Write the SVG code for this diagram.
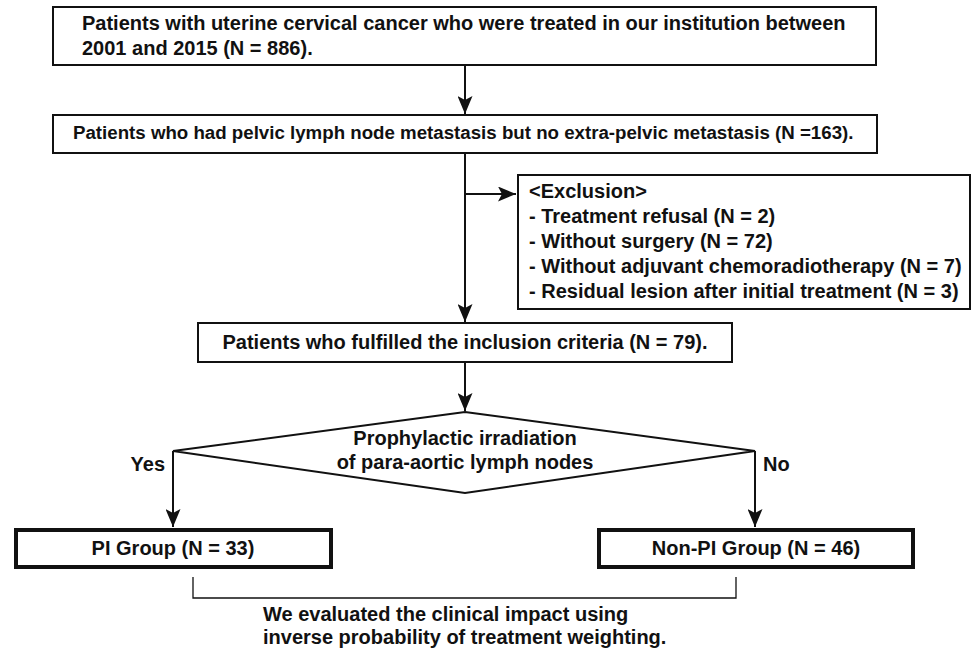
<svg xmlns="http://www.w3.org/2000/svg" width="973" height="650" viewBox="0 0 973 650">
<style>
text{font-family:"Liberation Sans",Arial,sans-serif;font-weight:bold;font-size:20px;fill:#111}
.box{fill:#fff;stroke:#111;stroke-width:2}
.thick{fill:#fff;stroke:#111;stroke-width:4}
.ln{fill:none;stroke:#111;stroke-width:2}
.thin{fill:none;stroke:#111;stroke-width:1.3}
.c{text-anchor:middle}
</style>
<defs>
<marker id="ah" viewBox="0 0 18 15" refX="18" refY="7.5" markerWidth="18" markerHeight="15" markerUnits="userSpaceOnUse" orient="auto">
<path d="M0,0 L18,7.5 L0,15 L4,7.5 Z" fill="#111"/>
</marker>
</defs>
<rect width="973" height="650" fill="#fff"/>
<g id="connectors">
<line class="ln" x1="465" y1="65" x2="465" y2="114" marker-end="url(#ah)"/>
<line class="ln" x1="465" y1="154" x2="465" y2="322" marker-end="url(#ah)"/>
<line class="ln" x1="465" y1="194" x2="516" y2="194" marker-end="url(#ah)"/>
<line class="ln" x1="465" y1="362" x2="465" y2="411" marker-end="url(#ah)"/>
<polyline class="ln" points="173,451 173,527" marker-end="url(#ah)"/>
<polyline class="ln" points="755,451 755,527" marker-end="url(#ah)"/>
<polyline class="thin" points="193,577 193,598 736,598 736,577"/>
<text x="165" y="471" text-anchor="end">Yes</text>
<text x="763" y="471">No</text>
</g>
<g id="n1">
<rect class="box" x="53" y="7" width="823" height="58"/>
<text x="82" y="30">Patients with uterine cervical cancer who were treated in our institution between</text>
<text x="82" y="55">2001 and 2015 (N = 886).</text>
</g>
<g id="n2">
<rect class="box" x="53" y="115" width="824" height="38"/>
<text x="73" y="139" style="font-size:18.7px">Patients who had pelvic lymph node metastasis but no extra-pelvic metastasis (N =163).</text>
</g>
<g id="excl">
<rect class="box" x="518" y="175" width="452" height="134"/>
<text x="529" y="198">&lt;Exclusion&gt;</text>
<text x="529" y="223">- Treatment refusal (N = 2)</text>
<text x="529" y="248">- Without surgery (N = 72)</text>
<text x="529" y="273">- Without adjuvant chemoradiotherapy (N = 7)</text>
<text x="529" y="298">- Residual lesion after initial treatment (N = 3)</text>
</g>
<g id="n3">
<rect class="box" x="198" y="323" width="534" height="39"/>
<text class="c" x="465" y="349">Patients who fulfilled the inclusion criteria (N = 79).</text>
</g>
<g id="decision">
<polygon class="box" points="465,412 755,451 465,493 173,451"/>
<text class="c" x="465" y="445">Prophylactic irradiation</text>
<text class="c" x="465" y="469">of para-aortic lymph nodes</text>
</g>
<g id="pi">
<rect class="thick" x="16" y="530" width="315" height="37"/>
<text class="c" x="173" y="555">PI Group (N = 33)</text>
</g>
<g id="nonpi">
<rect class="thick" x="599" y="530" width="314" height="37"/>
<text class="c" x="756" y="555">Non-PI Group (N = 46)</text>
</g>
<g id="note">
<text x="263" y="621">We evaluated the clinical impact using</text>
<text x="263" y="644">inverse probability of treatment weighting.</text>
</g>
</svg>
